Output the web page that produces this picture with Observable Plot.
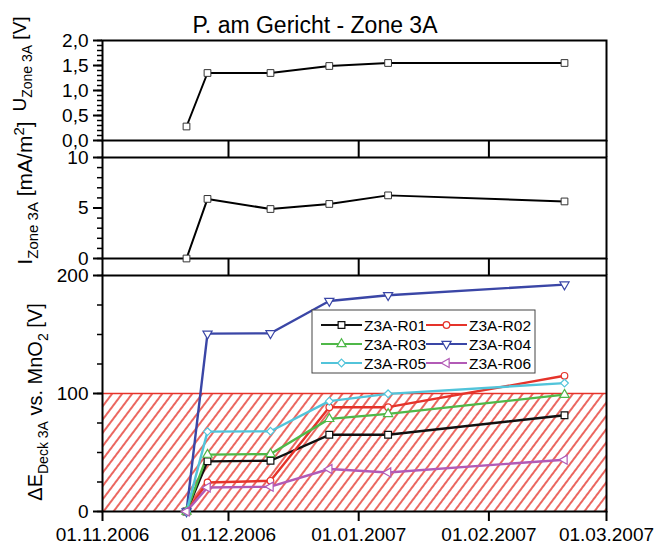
<!DOCTYPE html>
<html>
<head>
<meta charset="utf-8">
<script src="https://cdn.jsdelivr.net/npm/d3@7"></script>
<script src="https://cdn.jsdelivr.net/npm/@observablehq/plot@0.6"></script>
<style>
  body { margin: 0; background: #fff; }
  #wrap { position: relative; width: 654px; height: 545px; overflow: hidden; font-family: "Liberation Sans", Arial, sans-serif; }
  #wrap svg { position: absolute; left: 0; overflow: visible; }
</style>
</head>
<body>
<div id="wrap"></div>
<script>
// ---------- data ----------
const titleText = "P. am Gericht - Zone 3A";
const dates = ["2006-11-21", "2006-11-26", "2006-12-11", "2006-12-25", "2007-01-08", "2007-02-19"];
const uZone = [0.28, 1.35, 1.35, 1.49, 1.55, 1.55];
const iZone = [0, 5.9, 4.9, 5.4, 6.25, 5.65];
const seriesNames = ["Z3A-R01", "Z3A-R02", "Z3A-R03", "Z3A-R04", "Z3A-R05", "Z3A-R06"];
const r01 = [0, 42.5, 43, 65, 65, 81.6];
const r02 = [0, 24.6, 26, 88.4, 88.4, 115];
const r03 = [0, 48.2, 48.7, 78.5, 82.7, 99];
const r04 = [0, 150.7, 151, 178.4, 183.3, 192.3];
const r05 = [0, 67.7, 68, 93.5, 99.7, 108.8];
const r06 = [0, 20.4, 21, 36, 33.1, 43.9];
const limitValue = 100;
const monthTicks = ["2006-11-01", "2006-12-01", "2007-01-01", "2007-02-01", "2007-03-01"];
const uTicks = [0, 0.5, 1, 1.5, 2];
const iTicks = [0, 5, 10];
const eTicks = [0, 100, 200];

// ---------- styles ----------
const FONT = "Liberation Sans, Arial, sans-serif";
const RED = "#e5332a";
const seriesColors = ["#111111", RED, "#4fb848", "#3a46a6", "#52c4da", "#b25ab6"];
const seriesSymbols = ["square", "circle", "triangle", "triangle", "diamond2", "triangle"];
const seriesRotate = [0, 0, 0, 180, 0, -90];
const seriesR = [3.8, 3.3, 3.4, 3.4, 3.5, 3.4];

const parse = s => new Date(s + "T00:00:00Z");
const mTicks = monthTicks.map(parse);
const xDomain = [mTicks[0], mTicks[mTicks.length - 1]];
const uMinor = d3.range(0, 21).map(i => i / 10);
const iMinor = d3.range(0, 11);
const eMinor = d3.range(0, 201, 25);

const W = 654, ML = 102, MR = 48;
const base = {
  width: W, marginLeft: ML, marginRight: MR,
  style: { fontFamily: FONT, fontSize: "19px", color: "black", background: "transparent", overflow: "visible" }
};
const xScale = { type: "utc", domain: xDomain };
const commaFmt = d => d.toFixed(1).replace(".", ",");
const blank = () => "";

function yAxes(minor, major, fmt) {
  return [
    Plot.axisY({ ticks: minor, tickSize: 5, strokeWidth: 1.5, tickFormat: blank, label: null }),
    Plot.axisY({ ticks: major, tickSize: 9, tickPadding: 5, strokeWidth: 2, tickFormat: fmt, fontSize: 19, label: null })
  ];
}

const simple = dates.map((d, i) => ({ date: parse(d), u: uZone[i], iz: iZone[i] }));
const seriesVals = [r01, r02, r03, r04, r05, r06];
const long = seriesNames.flatMap((name, k) => seriesVals[k].map((v, i) => ({ series: name, date: parse(dates[i]), value: v })));

const wrap = document.getElementById("wrap");

// ---------- top panel ----------
const topChart = Plot.plot({
  ...base, height: 127, marginTop: 10, marginBottom: 17,
  x: xScale, y: { domain: [0, 2] },
  marks: [
    ...yAxes(uMinor, uTicks, commaFmt),
    Plot.axisX({ ticks: mTicks, tickSize: 17, strokeWidth: 2, tickFormat: blank, label: null }),
    Plot.frame({ strokeWidth: 2 }),
    Plot.line(simple, { x: "date", y: "u", stroke: "black", strokeWidth: 2 }),
    Plot.dot(simple, { x: "date", y: "u", symbol: "square", r: 3.8, fill: "white", stroke: "#333", strokeWidth: 1 })
  ]
});
topChart.style.top = "30px";
wrap.appendChild(topChart);

// ---------- middle panel ----------
const midChart = Plot.plot({
  ...base, height: 123, marginTop: 5, marginBottom: 17,
  x: xScale, y: { domain: [0, 10] },
  marks: [
    ...yAxes(iMinor, iTicks, d => String(d)),
    Plot.axisX({ ticks: mTicks, tickSize: 17, strokeWidth: 2, tickFormat: blank, label: null }),
    Plot.frame({ strokeWidth: 2 }),
    Plot.line(simple, { x: "date", y: "iz", stroke: "black", strokeWidth: 2 }),
    Plot.dot(simple, { x: "date", y: "iz", symbol: "square", r: 3.8, fill: "white", stroke: "#333", strokeWidth: 1 })
  ]
});
midChart.style.top = "152px";
wrap.appendChild(midChart);

// ---------- bottom panel ----------
const botChart = Plot.plot({
  ...base, height: 275, marginTop: 5, marginBottom: 34,
  x: xScale, y: { domain: [0, 200] },
  color: { domain: seriesNames, range: seriesColors },
  marks: [
    Plot.rect([limitValue], { x1: () => xDomain[0], x2: () => xDomain[1], y1: 0, y2: d => d, fill: "url(#hatch)" }),
    Plot.ruleY([limitValue], { stroke: RED, strokeWidth: 1.3 }),
    ...yAxes(eMinor, eTicks, d => String(d)),
    Plot.axisX({ ticks: mTicks, tickSize: 10, tickPadding: 6, strokeWidth: 2, tickFormat: d3.utcFormat("%d.%m.%Y"), fontSize: 19, label: null }),
    Plot.frame({ strokeWidth: 2 }),
    Plot.line(long, { x: "date", y: "value", z: "series", stroke: "series", strokeWidth: 2.4 }),
    ...seriesNames.map((name, k) => Plot.dot(long.filter(d => d.series === name), {
      x: "date", y: "value", symbol: seriesSymbols[k], rotate: seriesRotate[k], r: seriesR[k],
      fill: "white", stroke: seriesColors[k], strokeWidth: 1.2
    }))
  ]
});
botChart.style.top = "270px";
const defs = d3.select(botChart).insert("defs", ":first-child");
const pat = defs.append("pattern").attr("id", "hatch").attr("patternUnits", "userSpaceOnUse")
  .attr("width", 8).attr("height", 8).attr("patternTransform", "rotate(37)");
pat.append("line").attr("x1", 4).attr("x2", 4).attr("y1", -1).attr("y2", 9)
  .attr("stroke", RED).attr("stroke-width", 1.5);
wrap.appendChild(botChart);

// ---------- overlay: title, axis labels, legend ----------
const ov = d3.select(wrap).append("svg").attr("width", W).attr("height", 545)
  .style("top", "0px").attr("font-family", FONT);

ov.append("text").attr("x", 315).attr("y", 33).attr("text-anchor", "middle")
  .attr("font-size", 23).text(titleText);

function yLabel(cx, cy, size, sub, parts) {
  const t = ov.append("text").attr("transform", `translate(${cx},${cy}) rotate(-90)`)
    .attr("text-anchor", "middle").attr("font-size", size);
  parts.forEach(p => {
    const s = t.append("tspan").text(p.t);
    if (p.sub) s.attr("font-size", sub);
    if (p.dy) s.attr("dy", p.dy);
  });
}
yLabel(26, 64, 19, 14, [{ t: "U" }, { t: "Zone 3A", sub: 1, dy: 6 }, { t: " [V]", dy: -6 }]);
yLabel(32, 193, 21, 15, [{ t: "I" }, { t: "Zone 3A", sub: 1, dy: 6 }, { t: " [mA/m", dy: -6 }, { t: "2", sub: 1, dy: -8 }, { t: "]", dy: 8 }]);
yLabel(42, 402, 20, 14, [{ t: "\u0394E" }, { t: "Deck 3A", sub: 1, dy: 6 }, { t: " vs. MnO", dy: -6 }, { t: "2", sub: 1, dy: 6 }, { t: " [V]", dy: -6 }]);

// legend
const lg = ov.append("g");
lg.append("rect").attr("x", 312).attr("y", 310).attr("width", 223).attr("height", 63)
  .attr("fill", "white").attr("stroke", "#444").attr("stroke-width", 1);
const symMap = { square: d3.symbolSquare, circle: d3.symbolCircle, triangle: d3.symbolTriangle, diamond2: d3.symbolDiamond2 };
seriesNames.forEach((name, k) => {
  const col = k % 2, row = Math.floor(k / 2);
  const x0 = col === 0 ? 321 : 426;
  const y0 = 325 + row * 19;
  lg.append("line").attr("x1", x0).attr("x2", x0 + 41).attr("y1", y0).attr("y2", y0)
    .attr("stroke", seriesColors[k]).attr("stroke-width", 2.2);
  lg.append("path").attr("d", d3.symbol(symMap[seriesSymbols[k]], Math.PI * seriesR[k] ** 2)())
    .attr("transform", `translate(${x0 + 20.5},${y0}) rotate(${seriesRotate[k]})`)
    .attr("fill", "white").attr("stroke", seriesColors[k]).attr("stroke-width", 1.2);
  lg.append("text").attr("x", x0 + 43).attr("y", y0 + 5.5).attr("font-size", 15.5).text(name);
});
</script>
</body>
</html>
